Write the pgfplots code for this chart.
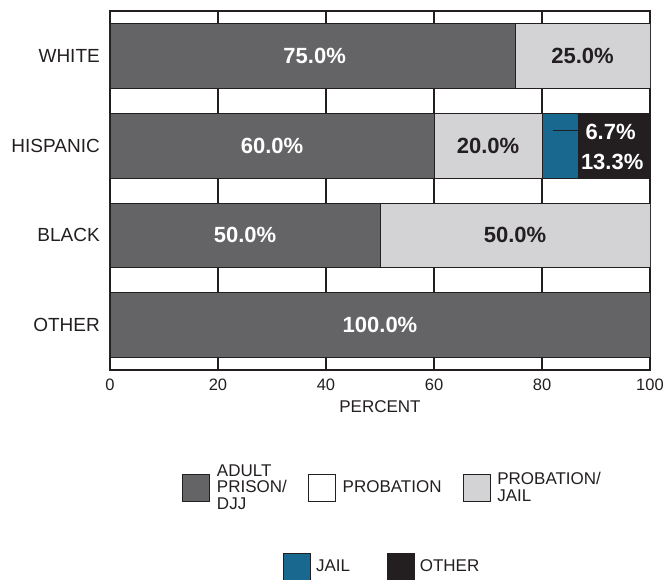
\documentclass[border=0pt]{standalone}
\usepackage{pgfplots}
\pgfplotsset{compat=1.18}
\usepackage{fontspec}
\setmainfont{Liberation Sans}
\definecolor{cdark}{RGB}{100,100,102}
\definecolor{clight}{RGB}{211,211,213}
\definecolor{cblue}{RGB}{24,104,143}
\definecolor{cblack}{RGB}{35,31,32}
\begin{document}
\begin{tikzpicture}
\useasboundingbox (0,0) rectangle (664pt,580pt);
\begin{axis}[
 at={(110pt,210pt)}, anchor=south west,
 width=540pt, height=359pt, scale only axis,
 xbar stacked, bar width=0.72,
 xmin=0, xmax=100, ymin=-0.5, ymax=3.5,
 xtick={0,20,...,100}, ytick={0,1,2,3},
 yticklabels={OTHER,BLACK,HISPANIC,WHITE},
 major tick length=0pt,
 xmajorgrids, grid style={line width=1.5pt, cblack},
 axis line style={line width=1.5pt, cblack},
 /pgf/number format/assume math mode=true,
 tick label style={text=cblack},
 xticklabel style={font=\fontsize{16.5}{18}\selectfont, anchor=center, yshift=-14.5pt},
 yticklabel style={font=\fontsize{19}{22}\selectfont, anchor=east, inner sep=0pt, xshift=-10pt},
 xlabel={PERCENT},
 xlabel style={font=\fontsize{17}{20}\selectfont, text=cblack, at={(axis description cs:0.5,0)}, anchor=center, yshift=-37pt},
 legend style={draw=none, fill=none, inner sep=0pt, at={(axis description cs:0.1333,-0.3273)}, anchor=west,
   font=\fontsize{17}{16.5}\selectfont, text=cblack, cells={align=left},
   /tikz/every odd column/.append style={column sep=5pt},
   /tikz/every even column/.append style={column sep=19pt}},
 legend image code/.code={\draw[#1] (0pt,-13.5pt) rectangle (27pt,13.5pt);},
 legend columns=3, legend cell align=left,
]
\addplot[fill=cdark, draw=cblack, line width=0.8pt] coordinates {(75,3) (60,2) (50,1) (100,0)};
\addlegendentry{ADULT\\PRISON/\\DJJ}
\addlegendimage{fill=white, draw=cblack, line width=0.8pt}
\addlegendentry{PROBATION}
\addplot[fill=clight, draw=cblack, line width=0.8pt] coordinates {(25,3) (20,2) (50,1) (0,0)};
\addlegendentry{PROBATION/\\JAIL}
\addplot[fill=cblue, draw=cblack, line width=0.8pt] coordinates {(0,3) (6.7,2) (0,1) (0,0)};
\addplot[fill=cblack, draw=cblack, line width=0.8pt] coordinates {(0,3) (13.3,2) (0,1) (0,0)};
\end{axis}
\begin{axis}[
 at={(110pt,210pt)}, anchor=south west,
 width=540pt, height=359pt, scale only axis, hide axis, clip=false,
 xmin=0, xmax=100, ymin=-0.5, ymax=3.5,
 /pgf/number format/assume math mode=true,
 legend style={draw=none, fill=none, inner sep=0pt, at={(axis description cs:0.3204,-0.5474)}, anchor=west,
   font=\fontsize{17}{16.5}\selectfont, text=cblack, cells={align=left},
   /tikz/every odd column/.append style={column sep=3pt},
   /tikz/every even column/.append style={column sep=35pt}},
 legend image code/.code={\draw[#1] (0pt,-13.5pt) rectangle (27pt,13.5pt);},
 legend columns=2, legend cell align=left,
]
\addplot[forget plot, only marks, mark=*, mark size=0pt, mark options={draw=none, fill=none},
  point meta=explicit,
  nodes near coords={\pgfmathprintnumber[fixed,fixed zerofill,precision=1,assume math mode=true]{\pgfplotspointmeta}\%},
  every node near coord/.append style={anchor=center, text=white, font=\bfseries\fontsize{22}{24}\selectfont}]
  table[meta=v] {
x y v
37.9 3 75.0
30 2 60.0
25 1 50.0
50 0 100.0
92.7 2.15 6.7
93.0 1.82 13.3
};
\addplot[forget plot, only marks, mark=*, mark size=0pt, mark options={draw=none, fill=none},
  point meta=explicit,
  nodes near coords={\pgfmathprintnumber[fixed,fixed zerofill,precision=1,assume math mode=true]{\pgfplotspointmeta}\%},
  every node near coord/.append style={anchor=center, text=cblack, font=\bfseries\fontsize{22}{24}\selectfont}]
  table[meta=v] {
x y v
87.5 3 25.0
70 2 20.0
75 1 50.0
};
\addplot[forget plot, cblack, line width=1pt] coordinates {(82.0,2.174) (86.7,2.174)};
\addlegendimage{fill=cblue, draw=cblack, line width=0.8pt}
\addlegendentry{JAIL}
\addlegendimage{fill=cblack, draw=cblack, line width=0.8pt}
\addlegendentry{OTHER}
\end{axis}
\end{tikzpicture}
\end{document}
